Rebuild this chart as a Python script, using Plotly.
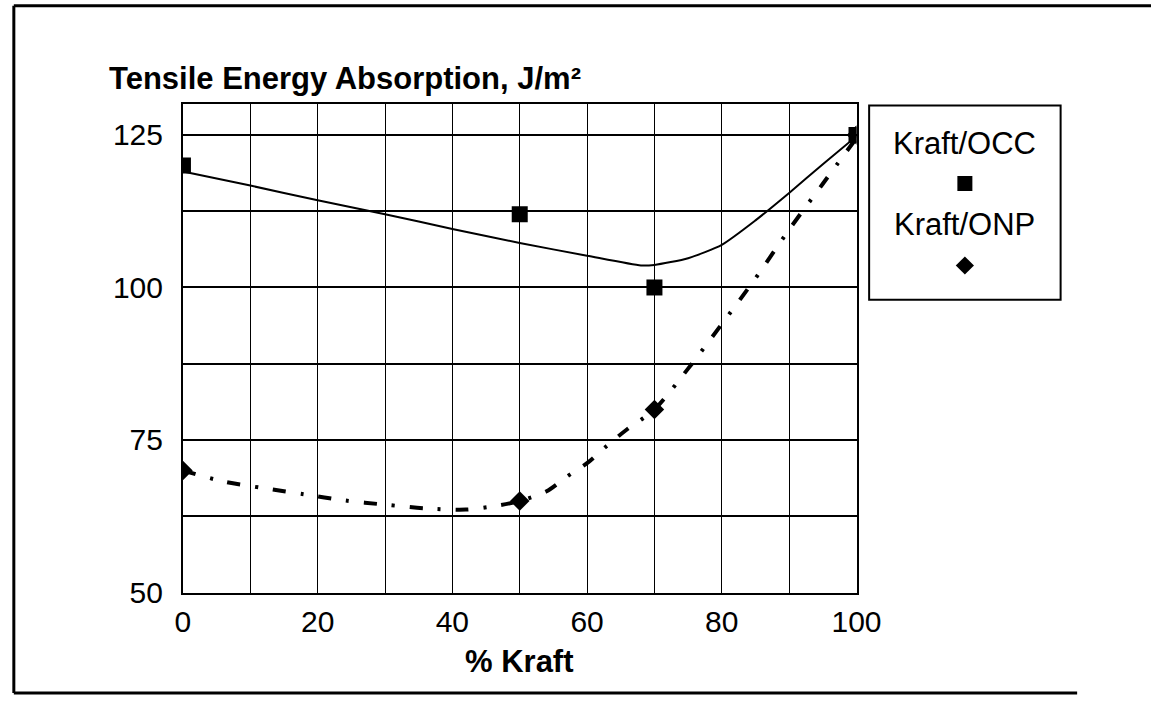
import plotly.graph_objects as go

# Measured points
kraft_pct = [0, 50, 70, 100]
occ_tea = [120, 112, 100, 125]
onp_tea = [70, 65, 80, 125]

# Hand-fitted trend curves
occ_fit_x = [0, 10, 20, 30, 40, 50, 60, 68, 70, 75, 80, 85, 90, 95, 100]
occ_fit_y = [119.0, 116.7, 114.3, 112.0, 109.6, 107.3, 105.2, 103.6, 103.7, 104.8, 107.0, 111.0, 115.5, 120.2, 124.8]
onp_fit_x = [0, 6, 12, 18, 24, 30, 36, 42, 47, 50, 54, 57, 60, 63, 66, 70, 75, 80, 85, 90, 95, 100]
onp_fit_y = [70.0, 68.2, 67.1, 66.1, 65.1, 64.4, 63.8, 63.6, 64.3, 65.0, 66.6, 69.0, 71.2, 74.1, 76.8, 80.0,
             86.7, 94.0, 101.5, 109.5, 117.0, 124.5]

series_names = ["Kraft/OCC", "Kraft/ONP"]
x_ticks = [0, 20, 40, 60, 80, 100]
y_ticks = [50, 75, 100, 125]

W, H = 1176, 713
FONT = "Liberation Sans, Arial, Helvetica, sans-serif"


def px_x(v):
    return v / W


def px_y(v):
    return (H - v) / H


fig = go.Figure()

# Trend curves
fig.add_trace(go.Scatter(
    x=onp_fit_x, y=onp_fit_y, mode="lines",
    line=dict(color="black", width=4, dash="13px,15px,3px,15px", shape="spline", smoothing=0.8),
    showlegend=False, hoverinfo="skip"))
fig.add_trace(go.Scatter(
    x=occ_fit_x, y=occ_fit_y, mode="lines",
    line=dict(color="black", width=2, shape="spline", smoothing=0.6),
    showlegend=False, hoverinfo="skip"))

# Data points
fig.add_trace(go.Scatter(
    x=kraft_pct, y=onp_tea, mode="markers", name=series_names[1],
    marker=dict(symbol="diamond", size=15, color="black"), showlegend=False))
fig.add_trace(go.Scatter(
    x=kraft_pct, y=occ_tea, mode="markers", name=series_names[0],
    marker=dict(symbol="square", size=16, color="black"), showlegend=False))

# Legend symbols on a small helper axis pair
fig.add_trace(go.Scatter(
    x=[0.5], y=[0.598], xaxis="x2", yaxis="y2", mode="markers",
    marker=dict(symbol="square", size=15, color="black"), showlegend=False, hoverinfo="skip"))
fig.add_trace(go.Scatter(
    x=[0.5], y=[0.176], xaxis="x2", yaxis="y2", mode="markers",
    marker=dict(symbol="diamond", size=14, color="black"), showlegend=False, hoverinfo="skip"))

plot_dom_x = [px_x(180), px_x(873)]
plot_dom_y = [px_y(607), px_y(107)]
leg_dom_x = [px_x(886), px_x(1083)]
leg_dom_y = [px_y(307), px_y(108)]

fig.update_layout(
    width=W, height=H,
    margin=dict(l=0, r=0, t=0, b=0),
    paper_bgcolor="white", plot_bgcolor="white",
    font=dict(family=FONT, color="black", size=30),
    xaxis=dict(
        domain=plot_dom_x, range=[0, 100], tickvals=x_ticks,
        showgrid=True, gridcolor="black", gridwidth=1.4,
        minor=dict(dtick=10, showgrid=True, gridcolor="black", gridwidth=1.4),
        showline=True, linecolor="black", linewidth=2, mirror=True,
        ticks="", ticklabelstandoff=1, zeroline=False,
        tickfont=dict(size=30),
    ),
    yaxis=dict(
        domain=plot_dom_y, range=[50, 130], tickvals=y_ticks,
        showgrid=True, gridcolor="black", gridwidth=2,
        minor=dict(dtick=12.5, showgrid=True, gridcolor="black", gridwidth=2),
        showline=True, linecolor="black", linewidth=2, mirror=True,
        ticks="", ticklabelstandoff=12, zeroline=False,
        tickfont=dict(size=30),
    ),
    xaxis2=dict(domain=leg_dom_x, range=[0, 1], visible=False, anchor="y2"),
    yaxis2=dict(domain=leg_dom_y, range=[0, 1], visible=False, anchor="x2"),
    showlegend=False,
)

# Legend box and labels
fig.add_shape(type="rect", xref="paper", yref="paper",
              x0=leg_dom_x[0], x1=leg_dom_x[1], y0=leg_dom_y[0], y1=leg_dom_y[1],
              line=dict(color="black", width=2), fillcolor="rgba(0,0,0,0)")
fig.add_annotation(x=0.5, y=0.804, xref="x2", yref="y2", text=series_names[0],
                   showarrow=False, font=dict(size=31), xanchor="center", yanchor="middle")
fig.add_annotation(x=0.5, y=0.387, xref="x2", yref="y2", text=series_names[1],
                   showarrow=False, font=dict(size=31), xanchor="center", yanchor="middle")

# Chart title and axis title
fig.add_annotation(x=px_x(102), y=px_y(80), xref="paper", yref="paper",
                   text="<b>Tensile Energy Absorption, J/m²</b>", showarrow=False,
                   font=dict(size=31), xanchor="left", yanchor="middle")
fig.add_annotation(x=(plot_dom_x[0] + plot_dom_x[1]) / 2, y=px_y(678), xref="paper", yref="paper",
                   text="<b>% Kraft</b>", showarrow=False,
                   font=dict(size=31), xanchor="center", yanchor="middle")

# Outer frame: left, top and bottom edges
frame = dict(color="black", width=3)
fig.add_shape(type="line", xref="paper", yref="paper",
              x0=px_x(6), x1=px_x(6), y0=px_y(6), y1=px_y(710), line=frame)
fig.add_shape(type="line", xref="paper", yref="paper",
              x0=px_x(6), x1=1, y0=px_y(6), y1=px_y(6), line=frame)
fig.add_shape(type="line", xref="paper", yref="paper",
              x0=px_x(6), x1=px_x(1100), y0=px_y(710), y1=px_y(710), line=frame)

fig.write_html("out.html")
